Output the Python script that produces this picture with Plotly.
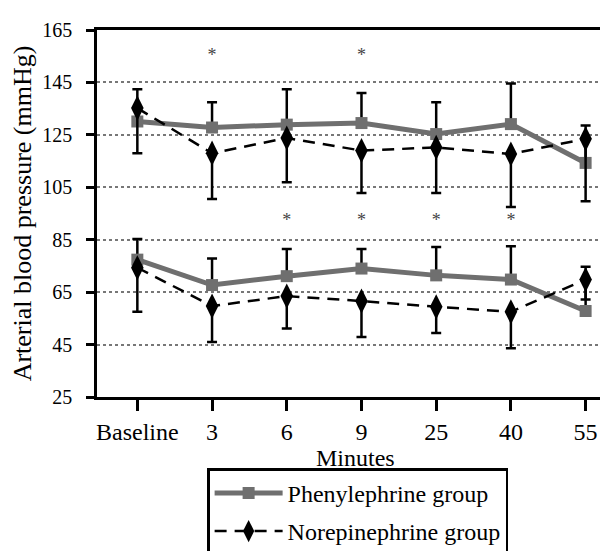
import plotly.graph_objects as go

# ---- data ----
categories = ["Baseline", "3", "6", "9", "25", "40", "55"]
cat_idx = list(range(len(categories)))

# upper group
phen_upper = [130.1, 127.8, 128.9, 129.5, 125.3, 129.1, 114.3]
phen_upper_plus = [12.3, 9.6, 13.5, 11.5, 12.1, 15.5, 14.3]
nore_upper = [135.2, 118.0, 123.8, 119.0, 120.2, 117.7, 123.5]
nore_upper_minus = [17.2, 17.5, 16.9, 16.2, 17.4, 20.2, 23.8]

# lower group
phen_lower = [77.4, 67.7, 71.1, 74.0, 71.4, 69.8, 57.8]
phen_lower_plus = [7.9, 10.1, 10.4, 7.5, 10.8, 12.7, 16.9]
nore_lower = [74.3, 59.7, 63.5, 61.6, 59.4, 57.5, 69.8]
nore_lower_minus = [16.8, 13.7, 12.4, 13.7, 10.0, 13.9, 7.6]

# significance markers
star_upper_x = [1, 3]
star_upper_y = [155, 155]
star_lower_x = [2, 3, 4, 5]
star_lower_y = [92, 92, 92, 92]

y_ticks = [25, 45, 65, 85, 105, 125, 145, 165]

FONT = "Liberation Serif"
GRAY = "#6f6f6f"
zeros = [0] * len(categories)


def phen_trace(y, plus, show):
    return go.Scatter(
        x=cat_idx, y=y, mode="lines+markers", name="Phenylephrine group",
        legendgroup="phen", showlegend=show,
        line=dict(color=GRAY, width=5),
        marker=dict(symbol="square", size=12, color=GRAY),
        error_y=dict(type="data", symmetric=False, array=plus, arrayminus=zeros,
                     color="black", thickness=2.5, width=5),
    )


def nore_trace(y, minus, show):
    return go.Scatter(
        x=cat_idx, y=y, mode="lines+markers", name="Norepinephrine group",
        legendgroup="nore", showlegend=show,
        line=dict(color="black", width=2.5, dash="12px,8px"),
        marker=dict(symbol="diamond-tall", size=18, color="black"),
        error_y=dict(type="data", symmetric=False, array=zeros, arrayminus=minus,
                     color="black", thickness=2.5, width=5),
    )


fig = go.Figure()
fig.add_trace(phen_trace(phen_upper, phen_upper_plus, True))
fig.add_trace(nore_trace(nore_upper, nore_upper_minus, True))
fig.add_trace(phen_trace(phen_lower, phen_lower_plus, False))
fig.add_trace(nore_trace(nore_lower, nore_lower_minus, False))

for sx, sy in [(star_upper_x, star_upper_y), (star_lower_x, star_lower_y)]:
    fig.add_trace(go.Scatter(
        x=sx, y=sy, mode="text", text=["*"] * len(sx), showlegend=False,
        textfont=dict(family=FONT, size=18, color="#444"),
        hoverinfo="skip",
    ))

fig.update_layout(
    width=608, height=551,
    margin=dict(l=89, r=2, t=22, b=161.5),
    paper_bgcolor="white", plot_bgcolor="white",
    font=dict(family=FONT, color="black"),
    legend=dict(
        x=0.213, y=-0.434, xanchor="left", yanchor="bottom",
        bordercolor="black", borderwidth=2.5, bgcolor="white",
        font=dict(family=FONT, size=24, color="black"),
        itemwidth=68, tracegroupgap=4,
    ),
    shapes=[dict(type="line", xref="paper", yref="paper", x0=1, x1=1, y0=0, y1=1,
                 line=dict(color="#dddddd", width=1))],
    annotations=[dict(text="Minutes", xref="paper", yref="paper", x=0.5, y=-0.1673,
                      xanchor="center", yanchor="middle", showarrow=False,
                      font=dict(family=FONT, size=24, color="black"))],
)

fig.update_xaxes(
    range=[-0.54, 6.38], tickmode="array", tickvals=cat_idx, ticktext=categories,
    showline=True, linecolor="black", linewidth=2.5, mirror=True,
    ticks="outside", ticklen=11, tickwidth=2.5, tickcolor="black",
    ticklabelstandoff=0,
    tickfont=dict(family=FONT, size=24, color="black"),
    showgrid=False, zeroline=False,
)
fig.update_yaxes(
    range=[25, 165], tickmode="array", tickvals=y_ticks,
    showline=True, linecolor="black", linewidth=2.5,
    ticks="outside", ticklen=8, tickwidth=2.5, tickcolor="black",
    ticklabelstandoff=10,
    tickfont=dict(family=FONT, size=20, color="black"),
    showgrid=True, gridcolor="#777777", gridwidth=1.5, griddash="dot",
    zeroline=False,
    title=dict(text="Arterial blood pressure (mmHg)",
               font=dict(family=FONT, size=26, color="black"), standoff=4),
)

fig.write_html("out.html")
